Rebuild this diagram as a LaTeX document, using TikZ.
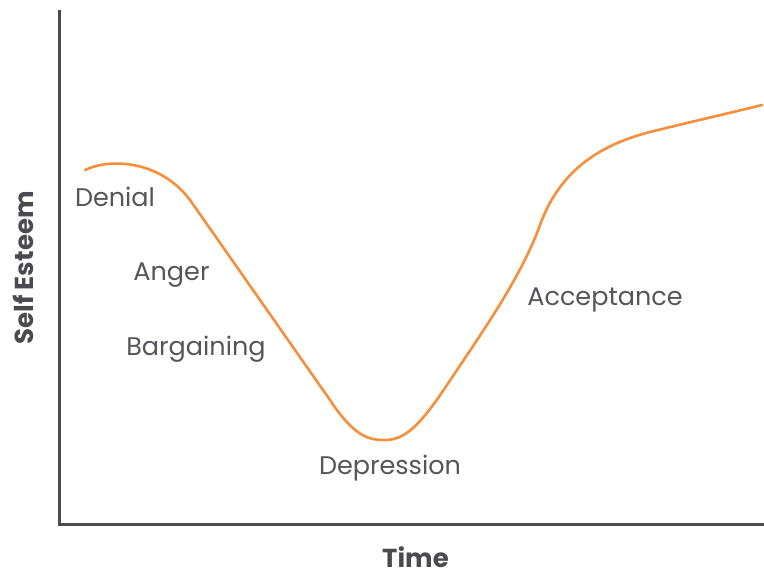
\documentclass[tikz,border=0pt]{standalone}
\usepackage{fontspec}
\setmainfont{Poppins}
\usepackage{xcolor}

\definecolor{axisgray}{HTML}{4A4A50}
\definecolor{textgray}{HTML}{55565B}
\definecolor{curveorange}{HTML}{F68E3C}

\begin{document}
\begin{tikzpicture}[
            x = 1pt, y = -1pt, % one unit per pixel
            axis/.style = {draw=axisgray, line width=3pt},
            curve/.style = {draw=curveorange, line width=2.6pt, line cap=round},
            stage/.style = {text=textgray, anchor=base, inner sep=0pt, font=\fontsize{25.5}{26}\selectfont},
            axislabel/.style = {text=axisgray, anchor=base, inner sep=0pt, font=\fontsize{26}{26}\selectfont\bfseries}
        ]
\useasboundingbox (0,0) rectangle (764,574);

% axes
\coordinate (top) at (59,10);
\coordinate (origin) at (59,524);
\coordinate (right) at (764,524);
\draw[axis] (top) -- (origin) -- (right);

% curve
\draw[curve] (85,170) .. controls (110,158) and (160,160) .. (190,200)
  -- (330,400) .. controls (355,438) and (370,440) .. (385,440)
  .. controls (405,440) and (420,425) .. (445,388)
  .. controls (480,335) and (520,280) .. (540,225)
  .. controls (560,170) and (600,145) .. (650,132)
  .. controls (690,122) and (730,113) .. (762,105);

% stages (placed by baseline)
\node[stage] (denial) at (115,206) {Denial};
\node[stage] (anger) at (171.5,280) {Anger};
\node[stage] (bargaining) at (196,355) {Bargaining};
\node[stage] (depression) at (390,474) {Depression};
\node[stage] (acceptance) at (605,305) {Acceptance};

% axis labels
\node[axislabel] (time) at (415.5,567) {Time};
\node[axislabel, rotate=90] (esteem) at (34,268) {Self Esteem};
\end{tikzpicture}
\end{document}
